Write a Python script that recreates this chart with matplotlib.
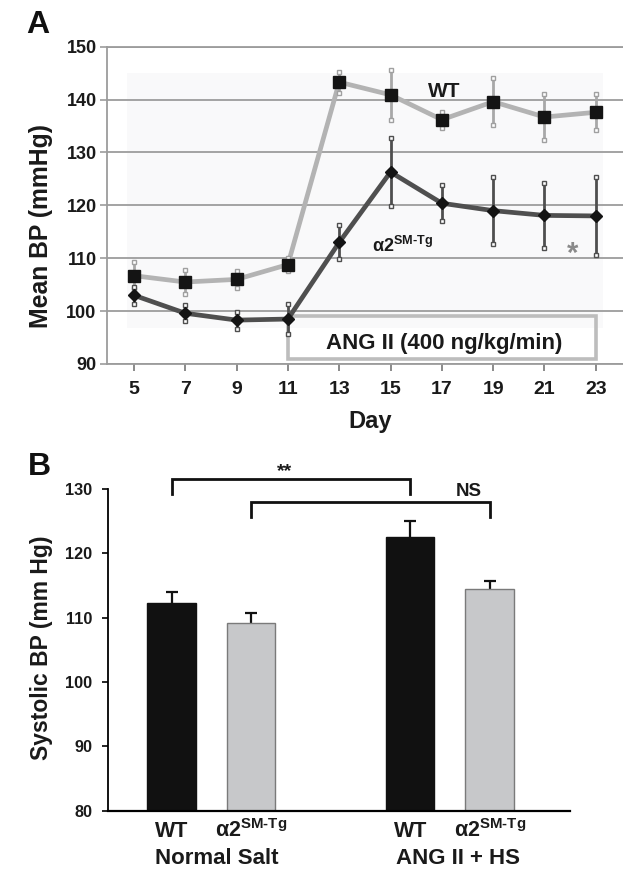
import matplotlib
matplotlib.use('Agg')
import matplotlib.pyplot as plt
from matplotlib.patches import Rectangle
from matplotlib.transforms import blended_transform_factory
import numpy as np

plt.rcParams['font.family'] = ['Liberation Sans', 'DejaVu Sans']
plt.rcParams['font.weight'] = 'bold'
plt.rcParams['mathtext.fontset'] = 'custom'
plt.rcParams['mathtext.rm'] = 'Liberation Sans:bold'
plt.rcParams['mathtext.bf'] = 'Liberation Sans:bold'
plt.rcParams['mathtext.it'] = 'Liberation Sans:bold'
plt.rcParams['mathtext.sf'] = 'Liberation Sans:bold'

# ---------------- data: panel A ----------------
days = [5, 7, 9, 11, 13, 15, 17, 19, 21, 23]
wt_mean = [106.7, 105.5, 106.0, 108.8, 143.3, 140.9, 136.2, 139.6, 136.7, 137.6]
wt_err = [2.6, 2.2, 1.6, 1.2, 2.0, 4.7, 1.5, 4.5, 4.3, 3.4]
tg_mean = [103.0, 99.6, 98.3, 98.5, 113.0, 126.3, 120.4, 119.0, 118.1, 118.0]
tg_err = [1.6, 1.5, 1.6, 2.8, 3.2, 6.5, 3.4, 6.4, 6.2, 7.4]
ang_start, ang_end = 11, 23

# ---------------- data: panel B ----------------
group_labels = ['Normal Salt', 'ANG II + HS']
genotype_labels = ['WT', r'$\mathrm{\alpha 2^{SM\text{-}Tg}}$', 'WT', r'$\mathrm{\alpha 2^{SM\text{-}Tg}}$']
bar_pos = [0, 1, 3, 4]
sbp_mean = [112.3, 109.2, 122.5, 114.4]
sbp_err = [1.7, 1.5, 2.6, 1.3]

W, H = 623, 875
fig = plt.figure(figsize=(W / 100, H / 100), dpi=100)

# ================= Panel A =================
axA = fig.add_axes([107 / W, 1 - 364 / H, 516 / W, (364 - 46.7) / H])
axA.set_xlim(3.95, 24.06)
axA.set_ylim(90, 150)

gcol = '#9c9c9c'
axA.add_patch(Rectangle((4.74, 96.8), 23.3 - 4.74, 145 - 96.8, facecolor='#f9f9fa',
                        edgecolor='none', zorder=0.1))
axA.set_yticks(np.arange(90, 151, 10))
axA.yaxis.grid(True, color=gcol, lw=1.3)
axA.set_axisbelow(True)
axA.spines['right'].set_visible(False)
for s in ['left', 'bottom', 'top']:
    axA.spines[s].set_color(gcol)
    axA.spines[s].set_linewidth(1.3)

axA.add_patch(Rectangle((ang_start, 90.9), ang_end - ang_start, 99.0 - 90.9, fill=False,
                        edgecolor='#bdbdbd', lw=2.6, zorder=1))

wt = np.array(wt_mean); wte = np.array(wt_err)
tg = np.array(tg_mean); tge = np.array(tg_err)

axA.plot(days, wt, color='#b3b3b3', lw=3.4, zorder=2, solid_joinstyle='round')
axA.plot(days, tg, color='#4f4f4f', lw=3.4, zorder=2.2, solid_joinstyle='round')
axA.errorbar(days, wt, yerr=wte, fmt='none', ecolor='#a8a8a8', elinewidth=2.0, capsize=0, zorder=2.5)
axA.errorbar(days, tg, yerr=tge, fmt='none', ecolor='#4f4f4f', elinewidth=2.0, capsize=0, zorder=2.6)
for mm, ee, c in [(wt, wte, '#a0a0a0'), (tg, tge, '#4f4f4f')]:
    axA.plot(days, mm + ee, 's', ms=2.8, mfc='white', mec=c, mew=1.0, ls='none', zorder=3)
    axA.plot(days, mm - ee, 's', ms=2.8, mfc='white', mec=c, mew=1.0, ls='none', zorder=3)
axA.plot(days, wt, 's', ms=8.8, color='#141414', ls='none', zorder=4)
axA.plot(days, tg, 'D', ms=6.4, color='#141414', ls='none', zorder=4)

axA.set_xticks(days)
axA.tick_params(axis='x', direction='out', length=5, width=1.2, color='#777777', pad=7,
                labelsize=14, labelcolor='#1a1a1a')
axA.tick_params(axis='y', direction='out', length=5, width=1.2, color=gcol, pad=2.5,
                labelsize=13, labelcolor='#1a1a1a')
for lab in axA.get_xticklabels() + axA.get_yticklabels():
    lab.set_fontweight('bold')

axA.text(17.09, 140.55, 'WT', ha='center', va='baseline', fontsize=15, color='#1a1a1a', zorder=5)
axA.text(14.28, 111.1, r'$\mathrm{\alpha 2^{SM\text{-}Tg}}$', ha='left', va='baseline', fontsize=13,
         color='#1a1a1a', zorder=5)
axA.text(22.1, 109.3, '*', ha='center', va='baseline', fontsize=21, color='#8a8a8a', zorder=5)
axA.text(17.1, 92.9, 'ANG II (400 ng/kg/min)', ha='center', va='baseline', fontsize=16,
         color='#1a1a1a', zorder=5)

fig.text(26 / W, 1 - 33.3 / H, 'A', ha='left', va='baseline', fontsize=23, color='#111111')
fig.text(41.5 / W, 1 - 226.5 / H, 'Mean BP (mmHg)', rotation=90, ha='center', va='center',
         fontsize=17.8, color='#1a1a1a')
fig.text(370 / W, 1 - 428 / H, 'Day', ha='center', va='baseline', fontsize=17, color='#1a1a1a')

# ================= Panel B =================
axB = fig.add_axes([108 / W, 1 - 810.7 / H, (570 - 108) / W, (810.7 - 489) / H])
axB.set_xlim(-0.80, 5.009)
axB.set_ylim(80, 130)
m = np.array(sbp_mean); e = np.array(sbp_err)
axB.bar(bar_pos, m, width=0.61, color=['#111111', '#c7c8ca', '#111111', '#c7c8ca'],
        edgecolor=['#111111', '#7a7a7a', '#111111', '#7a7a7a'], lw=1.0, zorder=2)
axB.vlines(bar_pos, m, m + e, color='#111111', lw=1.6, zorder=1.5)
axB.plot(bar_pos, m + e, ls='none', marker='_', ms=8, mew=1.6, color='#111111', zorder=1.5)

axB.spines['top'].set_visible(False)
axB.spines['right'].set_visible(False)
axB.spines['left'].set_linewidth(1.3)
axB.spines['bottom'].set_linewidth(1.6)
axB.set_xticks([])
axB.set_yticks(np.arange(80, 131, 10))
axB.tick_params(axis='y', direction='out', length=4.3, width=1.2, pad=7, labelsize=11.7,
                labelcolor='#1a1a1a')
for lab in axB.get_yticklabels():
    lab.set_fontweight('bold')

bt = blended_transform_factory(axB.transData, fig.transFigure)
for p, lab in zip(bar_pos, genotype_labels):
    axB.text(p, 1 - 837.3 / H, lab, transform=bt, ha='center', va='baseline', fontsize=15.5,
             color='#1a1a1a')
group_centers = [(bar_pos[0] + bar_pos[1]) / 2 + 0.07, (bar_pos[2] + bar_pos[3]) / 2 + 0.1]
for gx, lab in zip(group_centers, group_labels):
    axB.text(gx, 1 - 864.3 / H, lab, transform=bt, ha='center', va='baseline', fontsize=16,
             color='#1a1a1a')

# significance brackets
axB.plot([bar_pos[0], bar_pos[0], bar_pos[2], bar_pos[2]], [129.2, 131.6, 131.6, 129.2],
         color='#111111', lw=2.0, clip_on=False, solid_joinstyle='miter')
axB.plot([bar_pos[1], bar_pos[1], bar_pos[3], bar_pos[3]], [125.7, 128.0, 128.0, 125.7],
         color='#111111', lw=2.0, clip_on=False, solid_joinstyle='miter')
axB.text(1.42, 132.0, '**', ha='center', va='baseline', fontsize=14, color='#1a1a1a')
axB.text(3.74, 128.9, 'NS', ha='center', va='baseline', fontsize=13.5, color='#1a1a1a')

fig.text(28 / W, 1 - 475 / H, 'B', ha='left', va='baseline', fontsize=23, color='#111111')
fig.text(41.7 / W, 1 - 648 / H, 'Systolic BP (mm Hg)', rotation=90, ha='center', va='center',
         fontsize=16.5, color='#1a1a1a')

fig.savefig('out.png', dpi=100, facecolor='white')
